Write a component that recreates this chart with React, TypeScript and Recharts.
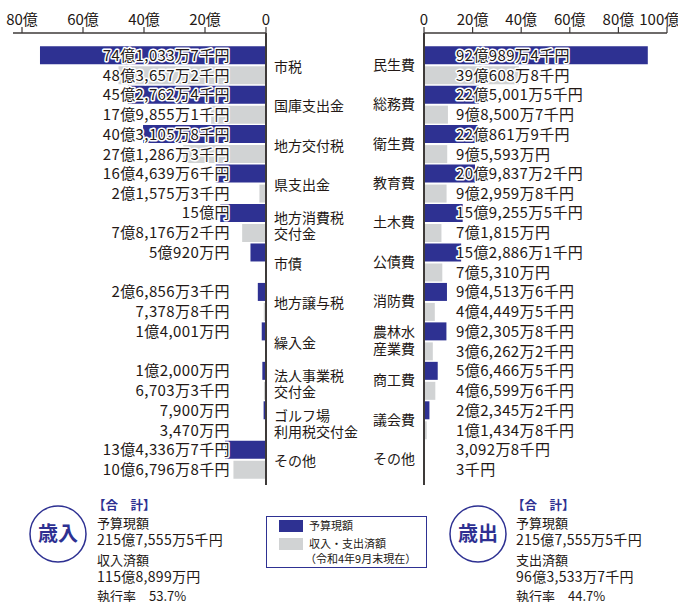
import { BarChart, Bar, XAxis, YAxis, LabelList } from "recharts";

const FONT = "'Noto Sans CJK JP', 'Noto Sans', sans-serif";
const BLUE = "#2e3192";
const GRAY = "#d1d3d4";
const INK = "#231815";
const AXIS = "#3e3a39";

// 歳入 (億円)
const revenueNames = [
  "市税",
  "国庫支出金",
  "地方交付税",
  "県支出金",
  "地方消費税\n交付金",
  "市債",
  "地方譲与税",
  "繰入金",
  "法人事業税\n交付金",
  "ゴルフ場\n利用税交付金",
  "その他",
];
const revenueBudget = [74.10337, 45.27624, 40.31058, 16.46396, 15.0, 5.092, 2.68563, 1.4001, 1.2, 0.79, 13.43367];
const revenueActual = [48.36572, 17.98551, 27.12863, 2.15753, 7.81762, 0, 0.73788, 0, 0.67033, 0.347, 10.67968];
const revenueBudgetText = [
  "74億1,033万7千円",
  "45億2,762万4千円",
  "40億3,105万8千円",
  "16億4,639万6千円",
  "15億円",
  "5億920万円",
  "2億6,856万3千円",
  "1億4,001万円",
  "1億2,000万円",
  "7,900万円",
  "13億4,336万7千円",
];
const revenueActualText = [
  "48億3,657万2千円",
  "17億9,855万1千円",
  "27億1,286万3千円",
  "2億1,575万3千円",
  "7億8,176万2千円",
  "0",
  "7,378万8千円",
  "0",
  "6,703万3千円",
  "3,470万円",
  "10億6,796万8千円",
];

// 歳出 (億円)
const expenseNames = [
  "民生費",
  "総務費",
  "衛生費",
  "教育費",
  "土木費",
  "公債費",
  "消防費",
  "農林水\n産業費",
  "商工費",
  "議会費",
  "その他",
];
const expenseBudget = [92.09894, 22.50015, 22.08619, 20.98372, 15.92555, 15.28861, 9.45136, 9.23058, 5.64665, 2.23452, 0.30928];
const expenseActual = [39.06088, 9.85007, 9.5593, 9.29598, 7.1815, 7.531, 4.44495, 3.62622, 4.65996, 1.14348, 0.00003];
const expenseBudgetText = [
  "92億989万4千円",
  "22億5,001万5千円",
  "22億861万9千円",
  "20億9,837万2千円",
  "15億9,255万5千円",
  "15億2,886万1千円",
  "9億4,513万6千円",
  "9億2,305万8千円",
  "5億6,466万5千円",
  "2億2,345万2千円",
  "3,092万8千円",
];
const expenseActualText = [
  "39億608万8千円",
  "9億8,500万7千円",
  "9億5,593万円",
  "9億2,959万8千円",
  "7億1,815万円",
  "7億5,310万円",
  "4億4,449万5千円",
  "3億6,262万2千円",
  "4億6,599万6千円",
  "1億1,434万8千円",
  "3千円",
];

const revenueTicks = [0, 20, 40, 60, 80];
const expenseTicks = [0, 20, 40, 60, 80, 100];

const revenueData = revenueNames.map((name, i) => ({
  name,
  budget: revenueBudget[i],
  actual: revenueActual[i],
  budgetText: revenueBudgetText[i],
  actualText: revenueActualText[i],
}));

const expenseData = expenseNames.map((name, i) => ({
  name,
  budget: expenseBudget[i],
  actual: expenseActual[i],
  budgetText: expenseBudgetText[i],
  actualText: expenseActualText[i],
}));

const okuLabel = (v: number) => (v === 0 ? "0" : `${v}億`);

function CategoryTick(props: any) {
  const { x, y, payload, side } = props;
  const lines = String(payload.value).split("\n");
  const isLeft = side === "left";
  const offsets =
    lines.length === 1 ? [isLeft ? 2 : 0] : isLeft ? [-4, 12] : [-8.5, 8.5];
  return (
    <text
      x={isLeft ? x : x - 1}
      y={y}
      textAnchor={isLeft ? "start" : "end"}
      fontSize={14}
      fill={INK}
      fontFamily={FONT}
    >
      {lines.map((l, i) => (
        <tspan key={i} x={isLeft ? x : x - 1} y={y + offsets[i]} dy="0.35em">
          {l}
        </tspan>
      ))}
    </text>
  );
}

function valueLabel(side: "left" | "right") {
  return (props: any) => {
    const { x, y, width, height, value } = props;
    const lo = Math.min(x, x + width);
    const hi = Math.max(x, x + width);
    const tx = side === "left" ? hi - 36 : lo + 32;
    return (
      <text
        x={tx}
        y={y + height / 2}
        dy="0.36em"
        textAnchor={side === "left" ? "end" : "start"}
        fontSize={15}
        letterSpacing={0.4}
        fill={INK}
        stroke="#fff"
        strokeWidth={3}
        strokeLinejoin="round"
        paintOrder="stroke"
        fontFamily={FONT}
      >
        {value}
      </text>
    );
  };
}

function Summary({ cx, tx, title, label, value, rate }: any) {
  return (
    <g fontFamily={FONT}>
      <circle cx={cx} cy={54} r={28} fill="#fff" stroke={BLUE} strokeWidth={1.5} />
      <text x={cx} y={54} dy="0.36em" textAnchor="middle" fontSize={20} fontWeight={700} fill={BLUE}>
        {title}
      </text>
      <text x={tx - 4} y={25} dy="0.36em" fontSize={12.5} fontWeight={700} fill={BLUE}>
        【合　計】
      </text>
      <text x={tx} y={43} dy="0.36em" fontSize={13} fill={INK}>予算現額</text>
      <text x={tx} y={60} dy="0.36em" fontSize={14} letterSpacing={0.3} fill={INK}>215億7,555万5千円</text>
      <text x={tx} y={80} dy="0.36em" fontSize={13} fill={INK}>{label}</text>
      <text x={tx} y={97} dy="0.36em" fontSize={14} letterSpacing={0.3} fill={INK}>{value}</text>
      <text x={tx} y={116} dy="0.36em" fontSize={13} fill={INK}>執行率　{rate}</text>
    </g>
  );
}

export default function App() {
  return (
    <div
      style={{
        position: "absolute",
        left: 0,
        top: 0,
        width: 678,
        height: 602,
        background: "#fff",
        fontFamily: FONT,
        overflow: "hidden",
      }}
    >
      <div style={{ position: "absolute", left: 0, top: 0 }}>
        <BarChart
          width={420}
          height={490}
          data={revenueData}
          layout="vertical"
          margin={{ top: 0, right: 0, bottom: 5, left: 13 }}
          barCategoryGap={1.2}
          barGap={2}
        >
          <XAxis
            type="number"
            orientation="top"
            reversed
            domain={[0, 80]}
            ticks={revenueTicks}
            tickFormatter={okuLabel}
            height={33}
            padding={{ left: 9, right: 0 }}
            axisLine={{ stroke: AXIS, strokeWidth: 1.5 }}
            tickLine={{ stroke: AXIS, strokeWidth: 1.2 }}
            tickSize={6}
            tick={{ fill: INK, fontSize: 15, fontFamily: FONT }}
          />
          <YAxis
            type="category"
            dataKey="name"
            orientation="right"
            width={154}
            padding={{ top: 12, bottom: 6 }}
            axisLine={{ stroke: AXIS, strokeWidth: 2 }}
            tickLine={false}
            interval={0}
            tick={<CategoryTick side="left" />}
          />
          <Bar dataKey="budget" fill={BLUE} isAnimationActive={false}>
            <LabelList dataKey="budgetText" content={valueLabel("left")} />
          </Bar>
          <Bar dataKey="actual" fill={GRAY} isAnimationActive={false}>
            <LabelList dataKey="actualText" content={valueLabel("left")} />
          </Bar>
        </BarChart>
      </div>

      <div style={{ position: "absolute", left: 340, top: 0 }}>
        <BarChart
          width={338}
          height={490}
          data={expenseData}
          layout="vertical"
          margin={{ top: 0, right: 11, bottom: 5, left: 0 }}
          barCategoryGap={1.2}
          barGap={2}
        >
          <XAxis
            type="number"
            orientation="top"
            domain={[0, 100]}
            ticks={expenseTicks}
            tickFormatter={okuLabel}
            height={33}
            axisLine={{ stroke: AXIS, strokeWidth: 1.5 }}
            tickLine={{ stroke: AXIS, strokeWidth: 1.2 }}
            tickSize={6}
            tick={{ fill: INK, fontSize: 15, fontFamily: FONT }}
          />
          <YAxis
            type="category"
            dataKey="name"
            orientation="left"
            width={84}
            padding={{ top: 12, bottom: 6 }}
            axisLine={{ stroke: AXIS, strokeWidth: 2 }}
            tickLine={false}
            interval={0}
            tick={<CategoryTick side="right" />}
          />
          <Bar dataKey="budget" fill={BLUE} isAnimationActive={false}>
            <LabelList dataKey="budgetText" content={valueLabel("right")} />
          </Bar>
          <Bar dataKey="actual" fill={GRAY} isAnimationActive={false}>
            <LabelList dataKey="actualText" content={valueLabel("right")} />
          </Bar>
        </BarChart>
      </div>

      <svg
        width={678}
        height={122}
        style={{ position: "absolute", left: 0, top: 480 }}
      >
        <Summary cx={58} tx={97} title="歳入" label="収入済額" value="115億8,899万円" rate="53.7%" />
        <Summary cx={478} tx={516} title="歳出" label="支出済額" value="96億3,533万7千円" rate="44.7%" />
        <g fontFamily={FONT}>
          <rect x={266.5} y={36.5} width={160} height={51} fill="#fff" stroke={BLUE} strokeWidth={1} />
          <rect x={279} y={40} width={24} height={12} fill={BLUE} />
          <rect x={279} y={58} width={24} height={12} fill={GRAY} />
          <text x={309} y={46} dy="0.36em" fontSize={11} fill={INK}>予算現額</text>
          <text x={309} y={64} dy="0.36em" fontSize={11} fill={INK}>収入・支出済額</text>
          <text x={305} y={79} dy="0.36em" fontSize={11} fill={INK}>（令和4年9月末現在）</text>
        </g>
      </svg>
    </div>
  );
}
